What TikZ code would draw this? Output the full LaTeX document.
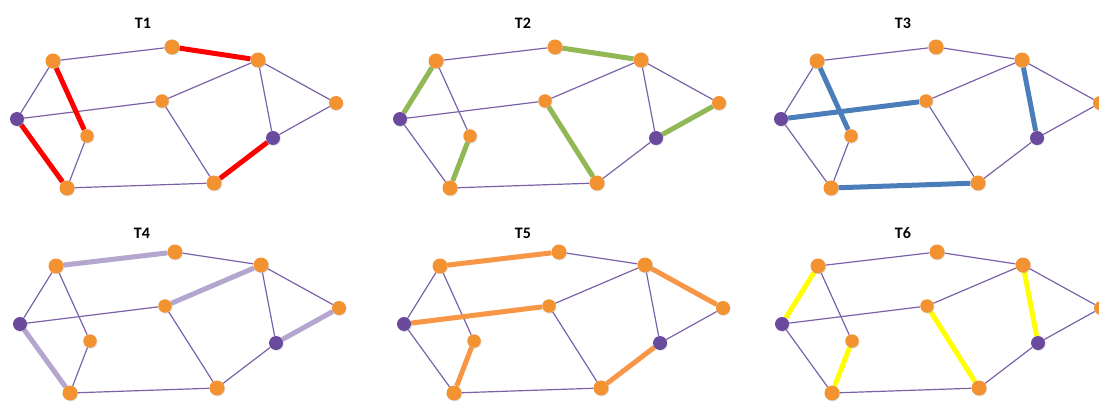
\documentclass[tikz,border=0pt]{standalone}
\usepackage{fontspec}
\setmainfont{Carlito}
\usetikzlibrary{backgrounds,shadows}
\definecolor{nodeorange}{RGB}{242,146,48}
\definecolor{nodepurple}{RGB}{106,74,156}
\definecolor{linkpurple}{RGB}{123,98,168}
\definecolor{treered}{RGB}{255,0,0}
\definecolor{treegreen}{RGB}{146,184,86}
\definecolor{treeblue}{RGB}{74,126,187}
\definecolor{treelilac}{RGB}{180,166,206}
\definecolor{treeorange}{RGB}{247,150,70}
\definecolor{treeyellow}{RGB}{255,255,0}
\begin{document}
\begin{tikzpicture}[
    x=1pt, y=-1pt,
    vertex/.style={
        circle,
        inner sep=0pt,
        minimum size=15pt,
        fill=nodeorange,
        drop shadow={opacity=0.25, shadow xshift=0.7pt, shadow yshift=-0.9pt}
    },
    hub/.style={vertex, fill=nodepurple, minimum size=14pt},
    link/.style={draw=linkpurple, line width=1.2pt},
    spanning/.style={draw=#1, line width=5pt},
    title/.style={font=\fontsize{16}{18}\selectfont\bfseries}
]
\useasboundingbox (0,0) rectangle (1099,403);

%==========================
% the same graph six times
%==========================
\foreach \p/\dx/\dy/\tx/\ty in {1/0/0/143/23, 2/383/0/523/23, 3/764/0/903/23,
                                4/3/205/142/233, 5/387/205/523/233, 6/765/205/903/233}{
  \node[title] (title\p) at (\tx,\ty) {T\p};
  \begin{scope}[shift={(\dx,\dy)}]
    \node[vertex] (t\p-a) at (53,61)   {};
    \node[vertex] (t\p-b) at (172,47)  {};
    \node[vertex] (t\p-c) at (258,60)  {};
    \node[vertex, minimum size=14pt] (t\p-d) at (336,103) {};
    \node[hub]    (t\p-e) at (17,119)  {};
    \node[vertex, minimum size=13.5pt] (t\p-f) at (162,101) {};
    \node[vertex, minimum size=13.5pt] (t\p-g) at (87,136)  {};
    \node[hub]    (t\p-h) at (273,138) {};
    \node[vertex] (t\p-i) at (67,188)  {};
    \node[vertex] (t\p-j) at (214,183) {};
  \end{scope}
  \begin{pgfonlayer}{background}
    \draw[link] (t\p-a) -- (t\p-b) -- (t\p-c) -- (t\p-d) -- (t\p-h) -- (t\p-j)
                -- (t\p-i) -- (t\p-e) -- (t\p-a) -- (t\p-g) -- (t\p-i);
    \draw[link] (t\p-e) -- (t\p-f) -- (t\p-c) -- (t\p-h);
    \draw[link] (t\p-f) -- (t\p-j);
  \end{pgfonlayer}
}

%==========================
% highlighted trees
%==========================
\begin{pgfonlayer}{background}
% T1
\draw[spanning=treered] (t1-b) -- (t1-c);
\draw[spanning=treered] (t1-a) -- (t1-g);
\draw[spanning=treered] (t1-e) -- (t1-i);
\draw[spanning=treered] (t1-j) -- (t1-h);
% T2
\draw[spanning=treegreen] (t2-b) -- (t2-c);
\draw[spanning=treegreen] (t2-a) -- (t2-e);
\draw[spanning=treegreen] (t2-g) -- (t2-i);
\draw[spanning=treegreen] (t2-f) -- (t2-j);
\draw[spanning=treegreen] (t2-h) -- (t2-d);
% T3
\draw[spanning=treeblue] (t3-a) -- (t3-g);
\draw[spanning=treeblue] (t3-e) -- (t3-f);
\draw[spanning=treeblue] (t3-c) -- (t3-h);
\draw[spanning=treeblue] (t3-i) -- (t3-j);
% T4
\draw[spanning=treelilac] (t4-a) -- (t4-b);
\draw[spanning=treelilac] (t4-f) -- (t4-c);
\draw[spanning=treelilac] (t4-e) -- (t4-i);
\draw[spanning=treelilac] (t4-h) -- (t4-d);
% T5
\draw[spanning=treeorange] (t5-a) -- (t5-b);
\draw[spanning=treeorange] (t5-e) -- (t5-f);
\draw[spanning=treeorange] (t5-g) -- (t5-i);
\draw[spanning=treeorange] (t5-c) -- (t5-d);
\draw[spanning=treeorange] (t5-j) -- (t5-h);
% T6
\draw[spanning=treeyellow] (t6-a) -- (t6-e);
\draw[spanning=treeyellow] (t6-g) -- (t6-i);
\draw[spanning=treeyellow] (t6-f) -- (t6-j);
\draw[spanning=treeyellow] (t6-c) -- (t6-h);
\end{pgfonlayer}

\end{tikzpicture}
\end{document}
